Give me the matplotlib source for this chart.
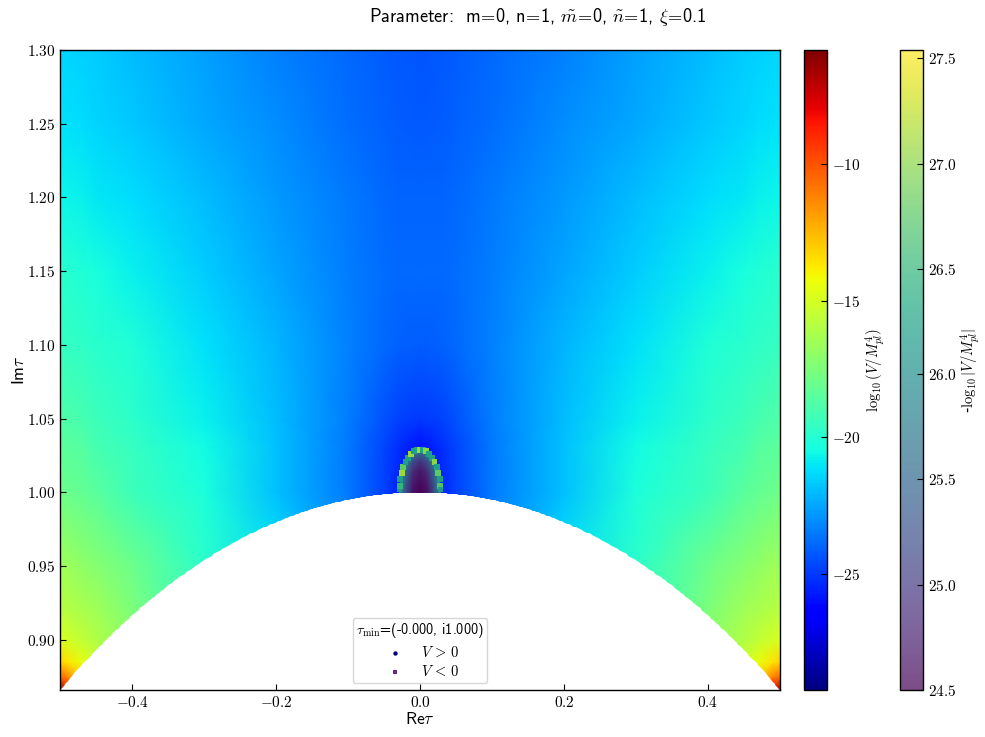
import numpy as np
import matplotlib
matplotlib.use("Agg")
import matplotlib.pyplot as plt
from matplotlib.cm import ScalarMappable
from matplotlib.colors import Normalize
from matplotlib.patches import Polygon
import logging
logging.getLogger("matplotlib.mathtext").setLevel(logging.ERROR)

plt.rcParams["mathtext.fontset"] = "cm"
plt.rcParams["axes.linewidth"] = 1.0

# Estimated log10(V/Mpl^4) (right half, mirrored to the left)
field_re = [0, .03, .05, .1, .2, .3, .4, .45, .47, .49, .5]
field_im = [.866, .875, .885, .9, .92, .95, 1.0, 1.03, 1.05, 1.1, 1.15, 1.2, 1.25, 1.3]
field_866 = [-22, -22, -22, -22, -22, -20, -17.5, -16, -14, -8.5, -6.5]
field_875 = [-22, -22, -22, -22, -22, -20, -17.5, -15.6, -13.8, -11.2, -10.5]
field_885 = [-22, -22, -22, -22, -22, -20, -17.3, -15.4, -14.5, -13.6, -13.2]
field_900 = [-22, -22, -22, -22, -22, -20, -17, -16, -15.6, -15.1, -14.8]
field_920 = [-22, -22, -22, -22, -22, -20, -17.5, -16.5, -16.2, -15.9, -15.8]
field_950 = [-24, -24, -24, -23, -21, -19.8, -17.94, -17.2, -16.9, -16.6, -16.56]
field_100 = [-27, -25.5, -24.8, -23.56, -21.84, -20.23, -19.31, -18.5, -18.2, -18, -17.94]
field_103 = [-26, -25.3, -24.7, -23.5, -21.9, -20.5, -19.5, -19, -18.6, -18.5, -18.4]
field_105 = [-25, -24.8, -24.4, -23.44, -21.95, -20.8, -19.77, -19.3, -19, -18.9, -18.85]
field_110 = [-24.13, -24.05, -23.9, -23.33, -22.18, -21.15, -20.12, -19.85, -19.7, -19.6, -19.54]
field_115 = [-23.9, -23.9, -23.8, -23.44, -22.52, -21.6, -20.8, -20.3, -20.1, -19.95, -19.89]
field_120 = [-24, -24, -23.9, -23.56, -22.75, -21.95, -21.26, -20.95, -20.8, -20.72, -20.69]
field_125 = [-24.24, -24.2, -24.1, -23.8, -23.1, -22.41, -21.72, -21.4, -21.25, -21.17, -21.15]
field_130 = [-24.36, -24.3, -24.2, -23.9, -23.33, -22.64, -21.95, -21.65, -21.5, -21.42, -21.38]

# Region with V < 0: inner field and rim of points
blob_re = [-.03, -.02, -.01, 0, .01, .02, .03]
blob_im = [.995, 1.005, 1.015, 1.022, 1.03]
blob_995 = [26, 25.2, 24.6, 24.5, 24.6, 25.2, 26]
blob_005 = [26.2, 25.3, 24.7, 24.55, 24.7, 25.3, 26.2]
blob_015 = [26.2, 25.6, 24.9, 24.7, 24.9, 25.6, 26.2]
blob_022 = [26.3, 26, 25.3, 25, 25.3, 26, 26.3]
blob_030 = [26.3, 26.3, 26.1, 25.8, 26.1, 26.3, 26.3]
rim_re = [-.0285, -.0283, -.0272, -.0254, -.0230, -.0202, -.0168, -.0129, -.0088, -.0045, 0,
          .0045, .0088, .0129, .0168, .0202, .0230, .0254, .0272, .0283, .0285]
rim_im = [1.002, 1.0046, 1.0090, 1.0133, 1.0172, 1.0206, 1.0236, 1.026, 1.0278, 1.0288, 1.0288,
          1.0288, 1.0278, 1.026, 1.0236, 1.0206, 1.0172, 1.0133, 1.0090, 1.0046, 1.002]
rim_val = [26.2, 26.5, 26.2, 27.1, 26.8, 26.2, 26.2, 27.1, 26.2, 26.3, 27.1,
           26.3, 27.0, 26.2, 26.2, 27.0, 26.2, 26.8, 26.2, 26.7, 26.2]

x_ticks = [-.4, -.2, 0, .2, .4]
y_ticks = [.90, .95, 1.00, 1.05, 1.10, 1.15, 1.20, 1.25, 1.30]
cb1_ticks = [-25, -20, -15, -10]
cb2_ticks = [24.5, 25, 25.5, 26, 26.5, 27, 27.5]

W, H = 985, 737
fig = plt.figure(figsize=(W / 100, H / 100), dpi=100)


def rect(x0, x1, y0, y1):
    return [x0 / W, 1 - y1 / H, (x1 - x0) / W, (y1 - y0) / H]


ax = fig.add_axes(rect(60, 780, 50, 690))
cax1 = fig.add_axes(rect(804, 827, 50, 690))
cax2 = fig.add_axes(rect(900, 923, 50, 690))

ylow = np.sqrt(3) / 2
norm1 = Normalize(-29.24, -5.83)
norm2 = Normalize(24.5, 27.54)

half = np.array([field_866, field_875, field_885, field_900, field_920, field_950, field_100,
                 field_103, field_105, field_110, field_115, field_120, field_125, field_130])
Z = np.hstack([half[:, :0:-1], half])
X = np.r_[-np.array(field_re)[:0:-1], field_re]
Y = np.array(field_im)
mesh = ax.pcolormesh(X, Y, Z, shading="gouraud", cmap="jet", norm=norm1, rasterized=True)

arc_x = np.linspace(-.5, .5, 400)
arc_y = np.sqrt(1 - arc_x ** 2)
outline = np.r_[np.c_[arc_x, arc_y], [[.5, 1.3], [-.5, 1.3]]]
clip = Polygon(outline, closed=True, transform=ax.transData)
mesh.set_clip_path(clip)

blob = ax.pcolormesh(blob_re, blob_im, np.array([blob_995, blob_005, blob_015, blob_022, blob_030]),
                     shading="gouraud", cmap="viridis", norm=norm2)
blob_outline = np.c_[np.r_[-.0285, rim_re, .0285], np.r_[.9997, rim_im, .9997]]
blob.set_clip_path(Polygon(blob_outline, closed=True, transform=ax.transData))
ax.scatter(rim_re, rim_im, c=rim_val, cmap="viridis", norm=norm2, marker="s", s=18, linewidths=0, zorder=3)

ax.set_xlim(-.5, .5)
ax.set_ylim(ylow, 1.3)
ax.set_xticks(x_ticks, [f"${v:.1f}$" for v in x_ticks], fontsize=11)
ax.set_yticks(y_ticks, [f"${v:.2f}$" for v in y_ticks], fontsize=11)
ax.tick_params(direction="in", length=4, width=0.8)
ax.set_xlabel(r"Re$\tau$", family="cmss10", fontsize=12.5, labelpad=1)
ax.set_ylabel(r"Im$\tau$", family="cmss10", fontsize=12.5, labelpad=0)

h1 = ax.scatter([], [], c="navy", marker="o", s=10, linewidths=0, label=r"$V\,>\,0$")
h2 = ax.scatter([], [], c="#6a2c85", marker="s", s=10, linewidths=0, label=r"$V\,<\,0$")
leg = ax.legend(handles=[h1, h2], loc="lower center", bbox_to_anchor=(.5, 0), fontsize=10.5,
                title=r"$\tau_{\rm min}$=(-0.000, i1.000)",
                title_fontproperties={"family": "cmss10", "size": 10.2},
                borderpad=.25, labelspacing=.3)

cb1 = fig.colorbar(ScalarMappable(norm1, "jet"), cax=cax1)
cb1.set_ticks(cb1_ticks, labels=[f"${v}$" for v in cb1_ticks], fontsize=11)
cb1.ax.tick_params(direction="in", length=4, width=.8, labelsize=11)
cb1.set_label(r"$\log_{10}(V/M_{pl}^4)$", fontsize=10.5, labelpad=2)

cb2 = fig.colorbar(ScalarMappable(norm2, "viridis"), cax=cax2, alpha=.7)
cb2.set_ticks(cb2_ticks, labels=[f"${v:.1f}$" for v in cb2_ticks], fontsize=11)
cb2.ax.tick_params(direction="in", length=4, width=.8, labelsize=11)
cb2.set_label(r"-$\log_{10}|V/M_{pl}^4|$", fontsize=10.5, labelpad=1)

fig.text(537.5 / W, 1 - 17 / H,
         r"Parameter:  m$\!=\!$0, n$\!=\!$1, $\tilde{m}$$\!=\!$0, $\tilde{n}$$\!=\!$1, $\xi$$\!=\!$0.1",
         family="cmss10", fontsize=13.2, ha="center", va="center")

fig.savefig("out.png", dpi=100)
